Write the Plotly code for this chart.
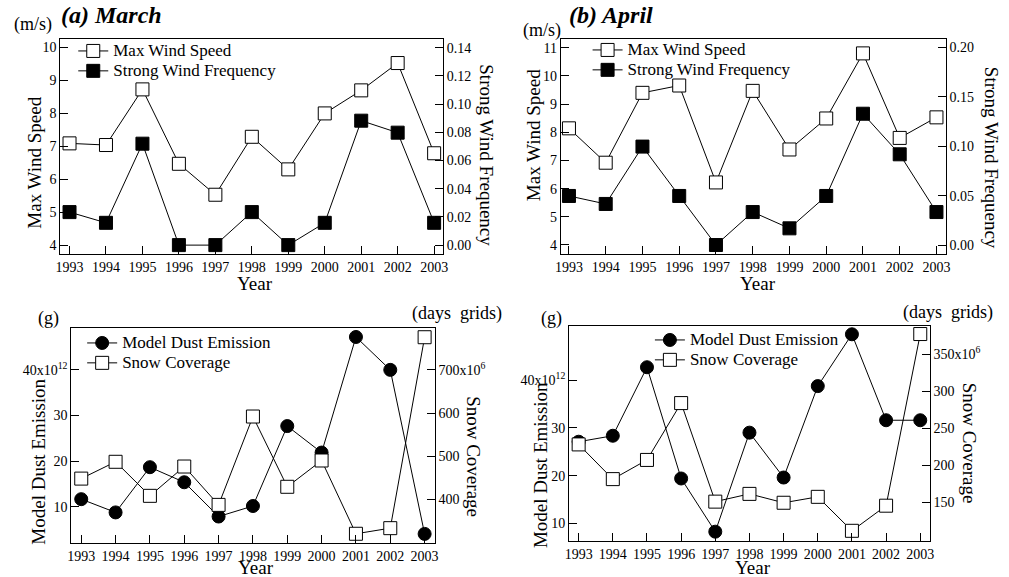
import plotly.graph_objects as go

years = [1993, 1994, 1995, 1996, 1997, 1998, 1999, 2000, 2001, 2002, 2003]

# (a) March
mar_wind_speed = [7.09, 7.04, 8.73, 6.47, 5.53, 7.29, 6.30, 8.00, 8.70, 9.53, 6.79]
mar_strong_freq = [0.0234, 0.0158, 0.0719, 0.0, 0.0, 0.0234, 0.0, 0.0158, 0.0882, 0.0797, 0.0158]
# (b) April
apr_wind_speed = [8.14, 6.92, 9.40, 9.66, 6.22, 9.47, 7.39, 8.49, 10.80, 7.80, 8.53]
apr_strong_freq = [0.0497, 0.0416, 0.0997, 0.0497, 0.0, 0.0334, 0.0169, 0.0497, 0.133, 0.0919, 0.0334]
# (c) March dust / snow
mar_dust = [11.7, 8.8, 18.7, 15.4, 7.9, 10.2, 27.7, 21.9, 47.2, 40.0, 4.1]
mar_snow = [448, 487, 408, 476, 387, 592, 429, 490, 320, 333, 776]
# (d) April dust / snow
apr_dust = [27.1, 28.35, 42.7, 19.4, 8.26, 29.0, 19.6, 38.75, 49.6, 31.6, 31.6]
apr_snow = [228, 181, 207, 284, 150.5, 161, 149, 157, 111, 145, 377.5]

W, H = 1009, 577
FONT = "Liberation Serif"


def px(x):
    return x / W


def py(y):
    return 1 - y / H


fig = go.Figure()

open_sq = dict(symbol="square", size=13, color="white", line=dict(color="black", width=1))
fill_sq = dict(symbol="square", size=13, color="black", line=dict(color="black", width=1))
fill_ci = dict(symbol="circle", size=13, color="black", line=dict(color="black", width=1))
ln = dict(color="black", width=1)


def lg(name):
    return '<span style="font-size:17px">' + name + '</span>'


# panel a
fig.add_trace(go.Scatter(x=years, y=mar_wind_speed, mode="lines+markers", name=lg("Max Wind Speed"),
                         marker=open_sq, line=ln, xaxis="x", yaxis="y", legend="legend"))
fig.add_trace(go.Scatter(x=years, y=mar_strong_freq, mode="lines+markers", name=lg("Strong Wind Frequency"),
                         marker=fill_sq, line=ln, xaxis="x", yaxis="y2", legend="legend"))
# panel b
fig.add_trace(go.Scatter(x=years, y=apr_wind_speed, mode="lines+markers", name=lg("Max Wind Speed"),
                         marker=open_sq, line=ln, xaxis="x2", yaxis="y3", legend="legend2"))
fig.add_trace(go.Scatter(x=years, y=apr_strong_freq, mode="lines+markers", name=lg("Strong Wind Frequency"),
                         marker=fill_sq, line=ln, xaxis="x2", yaxis="y4", legend="legend2"))
# panel c
fig.add_trace(go.Scatter(x=years, y=mar_dust, mode="lines+markers", name=lg("Model Dust Emission"),
                         marker=fill_ci, line=ln, xaxis="x3", yaxis="y5", legend="legend3"))
fig.add_trace(go.Scatter(x=years, y=mar_snow, mode="lines+markers", name=lg("Snow Coverage"),
                         marker=open_sq, line=ln, xaxis="x3", yaxis="y6", legend="legend3"))
# panel d
fig.add_trace(go.Scatter(x=years, y=apr_dust, mode="lines+markers", name=lg("Model Dust Emission"),
                         marker=fill_ci, line=ln, xaxis="x4", yaxis="y7", legend="legend4"))
fig.add_trace(go.Scatter(x=years, y=apr_snow, mode="lines+markers", name=lg("Snow Coverage"),
                         marker=open_sq, line=ln, xaxis="x4", yaxis="y8", legend="legend4"))

tickfont = dict(family=FONT, size=14, color="black")
common = dict(showline=True, linecolor="black", linewidth=1, ticks="inside", ticklen=8,
              tickcolor="black", showgrid=False, zeroline=False, tickfont=tickfont)


def xax(x0, x1, rng, anchor):
    return dict(domain=[px(x0), px(x1)], range=rng, anchor=anchor, tickvals=years,
                mirror=True, **common)


def yl(y0, y1, rng, anchor, **kw):
    return dict(domain=[py(y1), py(y0)], range=rng, anchor=anchor, side="left", **common, **kw)


def yr(rng, overlay, anchor, **kw):
    return dict(range=rng, overlaying=overlay, anchor=anchor, side="right", **common, **kw)


fig.update_layout(
    width=W, height=H, margin=dict(l=0, r=0, t=0, b=0),
    paper_bgcolor="white", plot_bgcolor="white",
    font=dict(family=FONT, color="black"),
    xaxis=xax(55, 441.7, [1992.75, 2003.24], "y"),
    yaxis=yl(39, 254, [3.73, 10.26], "x", dtick=1),
    yaxis2=yr([-0.0063, 0.1461], "y", "x", tickvals=[0, 0.02, 0.04, 0.06, 0.08, 0.10, 0.12, 0.14],
              tickformat=".2f"),
    xaxis2=xax(561, 950, [1992.78, 2003.25], "y3"),
    yaxis3=yl(39.3, 254, [3.68, 11.30], "x2", dtick=1),
    yaxis4=yr([-0.0091, 0.2084], "y3", "x2", tickvals=[0, 0.05, 0.10, 0.15, 0.20], tickformat=".2f"),
    xaxis3=xax(66, 433.3, [1992.71, 2003.29], "y5"),
    yaxis5=yl(328.3, 543.3, [2.04, 49.1], "x3", tickvals=[10, 20, 30, 40],
              ticktext=["10", "20", "30", "40x10<sup>12</sup>"]),
    yaxis6=yr([297.9, 796.7], "y5", "x3", tickvals=[400, 500, 600, 700],
              ticktext=["400", "500", "600", "700x10<sup>6</sup>"]),
    xaxis4=xax(569.3, 934, [1992.72, 2003.28], "y7"),
    yaxis7=yl(325.7, 540.7, [6.37, 51.4], "x4", tickvals=[10, 20, 30, 40],
              ticktext=["10", "20", "30", "40x10<sup>12</sup>"]),
    yaxis8=yr([97.6, 388.8], "y7", "x4", tickvals=[150, 200, 250, 300, 350],
              ticktext=["150", "200", "250", "300", "350x10<sup>6</sup>"]),
)

leg_common = dict(xanchor="left", yanchor="top", bgcolor="rgba(0,0,0,0)", itemwidth=30,
                  font=dict(family=FONT, size=13, color="black"), tracegroupgap=0)
fig.update_layout(
    legend=dict(x=px(68), y=py(36), **leg_common),
    legend2=dict(x=px(588), y=py(35), **leg_common),
    legend3=dict(x=px(77), y=py(328), **leg_common),
    legend4=dict(x=px(651), y=py(325), **leg_common),
)


def ann(text, x, y, size, xanchor="center", angle=0, **kw):
    fig.add_annotation(text=text, x=px(x), y=py(y), xref="paper", yref="paper", showarrow=False,
                       xanchor=xanchor, yanchor="middle", textangle=angle,
                       font=dict(family=FONT, size=size, color="black"), **kw)


ann("(m/s)", 6, 25, 18, xanchor="left")
ann("<b><i>(a) March</i></b>", 54, 15, 24, xanchor="left")
ann("(m/s)", 521, 30, 18, xanchor="left")
ann("<b><i>(b) April</i></b>", 567, 15, 24, xanchor="left")
ann("Max Wind Speed", 28, 163, 19, angle=-90)
ann("Strong Wind Frequency", 485, 155, 19, angle=90)
ann("Max Wind Speed", 533, 135, 19, angle=-90)
ann("Strong Wind Frequency", 997, 158, 19, angle=90)
ann("Year", 252, 283, 19)
ann("Year", 760, 283, 19)
ann("Model Dust Emission", 32, 462, 19, angle=-90)
ann("Snow Coverage", 473, 457, 19, angle=90)
ann("Model Dust Emission", 540, 465, 19, angle=-90)
ann("Snow Coverage", 975, 443, 19, angle=90)
ann("Year", 253, 567, 19)
ann("Year", 755, 567, 19)
ann("(g)", 43, 318, 18)
ann("(g)", 552, 318, 18)
ann("(days&nbsp;&nbsp;grids)", 408, 313, 18, xanchor="left")
ann("(days&nbsp;&nbsp;grids)", 905, 312, 18, xanchor="left")

fig.write_html("out.html", config={"displayModeBar": False},
               post_script="document.body.style.margin='0';")
